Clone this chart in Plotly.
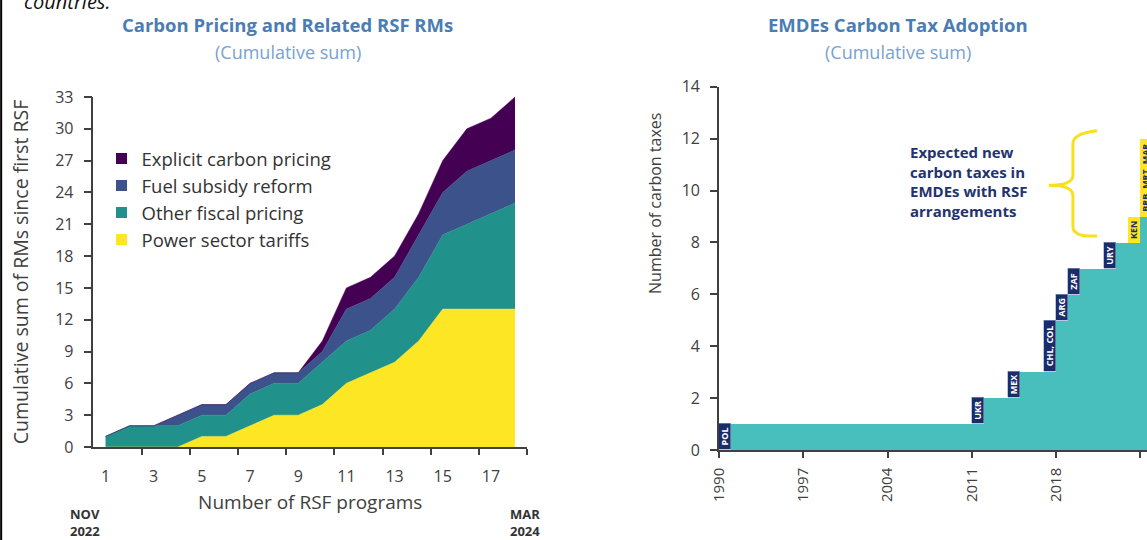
import plotly.graph_objs as go

# left panel: cumulative RSF reform measures per program
programs = list(range(1, 19))
power_tariffs = [0, 0, 0, 0, 1, 1, 2, 3, 3, 4, 6, 7, 8, 10, 13, 13, 13, 13]
other_fiscal = [1, 2, 2, 2, 2, 2, 3, 3, 3, 4, 4, 4, 5, 6, 7, 8, 9, 10]
fuel_subsidy = [0, 0, 0, 1, 1, 1, 1, 1, 1, 1, 3, 3, 3, 4, 4, 5, 5, 5]
explicit_carbon = [0, 0, 0, 0, 0, 0, 0, 0, 0, 1, 2, 2, 2, 2, 3, 4, 4, 5]
program_ticks = [1, 3, 5, 7, 9, 11, 13, 15, 17]

# right panel: carbon tax adoption in EMDEs
years = list(range(1990, 2026))
adopted_years = [1990, 2011, 2014, 2017, 2018, 2019, 2022]
adopted_counts = [1, 1, 1, 2, 1, 1, 1]
adopted_labels = ['POL', 'UKR', 'MEX', 'CHL, COL', 'ARG', 'ZAF', 'URY']
expected_years = [2024, 2025]
expected_counts = [1, 3]
expected_labels = ['KEN', 'BRB, MRT, MAR']
year_ticks = [1990, 1997, 2004, 2011, 2018, 2025]

font = 'Open Sans'
axis_color = '#404040'
title_color = '#4A7DB4'
subtitle_color = '#78A2CF'
navy = '#1B2C6B'
teal = '#48BFBC'
yellow = '#FDE725'

# taxes already in place at the start of each year
events = dict(zip(adopted_years, adopted_counts))
events.update(dict(zip(expected_years, expected_counts)))
base = []
running = 0
for yr in years:
    base.append(running)
    running += events.get(yr, 0)

fig = go.Figure()

series = [('Power sector tariffs', power_tariffs, '#FDE725'),
          ('Other fiscal pricing', other_fiscal, '#21918C'),
          ('Fuel subsidy reform', fuel_subsidy, '#3B528B'),
          ('Explicit carbon pricing', explicit_carbon, '#440154')]
for name, values, color in series:
    fig.add_trace(go.Scatter(x=programs, y=values, stackgroup='rm', mode='lines', line=dict(width=0.5, color=color),
                             fillcolor=color, name=name, showlegend=False, xaxis='x', yaxis='y', hoverinfo='skip'))
for name, values, color in reversed(series):
    fig.add_trace(go.Scatter(x=[None], y=[None], mode='markers', name=name, legendgroup=name,
                             marker=dict(symbol='square', size=11, color=color), xaxis='x', yaxis='y'))

fig.add_trace(go.Bar(x=years, y=base, width=1, offset=0, marker=dict(color=teal, line=dict(width=0)),
                     showlegend=False, xaxis='x2', yaxis='y2'))
fig.add_trace(go.Bar(x=adopted_years, y=adopted_counts, width=1, offset=0, text=adopted_labels,
                     textposition='inside', insidetextanchor='middle', textangle=-90, constraintext='none',
                     textfont=dict(family=font, size=9, color='#FFFFFF', weight='bold'),
                     marker=dict(color=navy, line=dict(width=0.6, color='#8FA0C8')),
                     showlegend=False, xaxis='x2', yaxis='y2'))
fig.add_trace(go.Bar(x=expected_years, y=expected_counts, width=1, offset=0, text=expected_labels,
                     textposition='inside', insidetextanchor='middle', textangle=-90, constraintext='none',
                     textfont=dict(family=font, size=9, color=navy, weight='bold'),
                     marker=dict(color=yellow, line=dict(width=0)),
                     showlegend=False, xaxis='x2', yaxis='y2'))

axis_style = dict(showline=True, linecolor=axis_color, linewidth=1.5, ticks='outside', ticklen=6,
                  tickcolor=axis_color, tickwidth=1.5, showgrid=False, zeroline=False, automargin=False,
                  tickfont=dict(family=font, size=16, color=axis_color))

fig.update_layout(
    width=1147, height=540, margin=dict(t=0, b=0, l=0, r=0, pad=0),
    paper_bgcolor='#FFFFFF', plot_bgcolor='#FFFFFF', barmode='stack', bargap=0,
    font=dict(family=font, color=axis_color),
    xaxis=dict(axis_style, domain=[0.0815, 0.4595], range=[0.5, 18.5], tickvals=program_ticks, ticks='',
               ticklabelstandoff=14,
               minor=dict(tickvals=[2.5, 4.5, 6.5, 8.5, 10.5, 12.5, 14.5, 16.5, 18.5], ticks='outside',
                          ticklen=6, tickcolor=axis_color, tickwidth=1.5),
               title=dict(text='Number of RSF programs', standoff=10, font=dict(family=font, size=19, color=axis_color))),
    yaxis=dict(axis_style, domain=[0.1722, 0.8204], range=[0, 33], dtick=3, anchor='x', ticklen=8,
               ticklabelstandoff=7,
               title=dict(text='Cumulative sum of RMs since first RSF', standoff=21,
                          font=dict(family=font, size=19.5, color=axis_color))),
    xaxis2=dict(axis_style, domain=[0.6268, 1.0], range=[1990, 2025.55], tickvals=year_ticks, tickangle=-90,
                anchor='y2', ticklabelstandoff=4, tickfont=dict(family=font, size=15, color=axis_color)),
    yaxis2=dict(axis_style, domain=[0.1667, 0.8394], range=[0, 14], dtick=2, anchor='x2', ticklen=7,
                ticklabelstandoff=7),
    legend=dict(x=0.0885, y=0.741, xanchor='left', yanchor='top', bgcolor='rgba(0,0,0,0)', tracegroupgap=0,
                font=dict(family=font, size=18.5, color='#333333'), itemclick=False),
    showlegend=True,
)

annotations = [
    dict(x=0.251, y=0.954, text='<b>Carbon Pricing and Related RSF RMs</b>',
         font=dict(size=18.5, color=title_color)),
    dict(x=0.251, y=0.904, text='(Cumulative sum)', font=dict(size=18, color=subtitle_color)),
    dict(x=0.783, y=0.954, text='<b>EMDEs Carbon Tax Adoption</b>', font=dict(size=18.5, color=title_color)),
    dict(x=0.783, y=0.904, text='(Cumulative sum)', font=dict(size=18, color=subtitle_color)),
    dict(x=0.074, y=0.048, text='<b>NOV</b>', font=dict(size=13, color='#333333')),
    dict(x=0.074, y=0.016, text='<b>2022</b>', font=dict(size=13, color='#333333')),
    dict(x=0.4577, y=0.048, text='<b>MAR</b>', font=dict(size=13, color='#333333')),
    dict(x=0.4577, y=0.016, text='<b>2024</b>', font=dict(size=13, color='#333333')),
    dict(x=0.571, y=0.624, text='Number of carbon taxes', textangle=-90, font=dict(size=16, color=axis_color)),
    dict(x=0.792, y=0.663, text='<b>Expected new<br>carbon taxes in<br>EMDEs with RSF<br>arrangements</b>',
         align='left', xanchor='left', font=dict(size=15, color='#22336F')),
    dict(x=0.019, y=0.969, text='<i>countries.</i>', xanchor='left', yanchor='bottom',
         font=dict(size=20, color='#111111')),
]
for note in annotations:
    note.setdefault('xref', 'paper')
    note.setdefault('yref', 'paper')
    note.setdefault('xanchor', 'center')
    note.setdefault('yanchor', 'middle')
    note.setdefault('showarrow', False)
    note['font'].setdefault('family', font)
    fig.add_annotation(**note)

# yellow brace next to the expected taxes note
fig.add_shape(type='path', xref='x2', yref='y2', line=dict(color='#F7E01C', width=3),
              path='M 2021.4,12.3 Q 2019.4,12.2 2019.4,11.8 L 2019.4,10.6 Q 2019.4,10.2 2017.4,10.2 '
                   'Q 2019.4,10.2 2019.4,9.8 L 2019.4,8.6 Q 2019.4,8.2 2021.4,8.25')
# page border on the left
fig.add_shape(type='line', xref='paper', yref='paper', x0=0.001, x1=0.001, y0=0, y1=1,
              line=dict(color='#000000', width=2))

fig.write_html('out.html', config={'displayModeBar': False}, post_script="document.body.style.margin = '0';")
